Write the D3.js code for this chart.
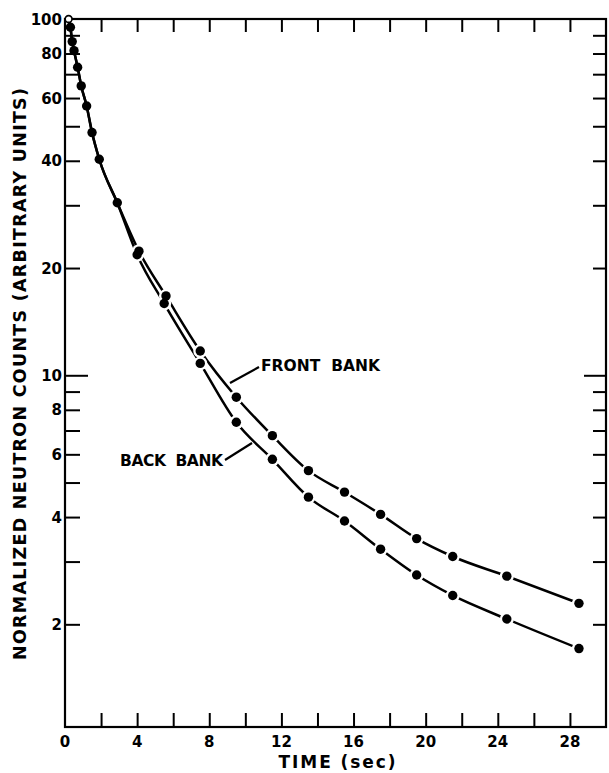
<!DOCTYPE html>
<html>
<head>
<meta charset="utf-8">
<script src="https://cdn.jsdelivr.net/npm/d3@7"></script>
<style>
  html, body { margin: 0; padding: 0; background: #fff; }
  svg { display: block; }
  text { font-family: "DejaVu Sans", "Liberation Sans", sans-serif; font-weight: bold; fill: #000; }
</style>
</head>
<body>
<svg id="chart" width="609" height="773"></svg>
<script>
// Early decay points, common to both detector banks (time in s, counts)
const earlyTimes  = [0.2, 0.3, 0.4, 0.5, 0.7, 0.9, 1.2, 1.5, 1.9, 2.9];
const earlyCounts = [100, 94.8, 86.4, 81.5, 73.2, 64.9, 57.0, 48.0, 40.4, 30.5];

// Front bank
const frontTimes  = [4.1, 5.6, 7.5, 9.5, 11.5, 13.5, 15.5, 17.5, 19.5, 21.5, 24.5, 28.5];
const frontCounts = [22.3, 16.7, 11.7, 8.68, 6.77, 5.40, 4.70, 4.07, 3.48, 3.10, 2.73, 2.29];

// Back bank
const backTimes  = [4.0, 5.5, 7.5, 9.5, 11.5, 13.5, 15.5, 17.5, 19.5, 21.5, 24.5, 28.5];
const backCounts = [21.8, 15.9, 10.8, 7.38, 5.81, 4.55, 3.90, 3.25, 2.75, 2.41, 2.07, 1.71];

// Axis ticks
const xTicks = [2, 4, 6, 8, 10, 12, 14, 16, 18, 20, 22, 24, 26, 28];
const xTickLabels = [0, 4, 8, 12, 16, 20, 24, 28];
const yTicks = [2, 3, 4, 5, 6, 7, 8, 9, 10, 20, 30, 40, 50, 60, 70, 80, 90];
const yTickLabels = [2, 4, 6, 8, 10, 20, 40, 60, 80, 100];

const svg = d3.select("#chart");
const plotLeft = 65, plotRight = 606, plotTop = 19, plotBottom = 727;

const x = d3.scaleLinear().domain([0, 30]).range([plotLeft, plotRight]);
const y = d3.scaleLog().domain([1.03, 100]).range([plotBottom, plotTop]);

// Frame
svg.append("rect")
  .attr("x", plotLeft).attr("y", plotTop)
  .attr("width", plotRight - plotLeft).attr("height", plotBottom - plotTop)
  .attr("fill", "none").attr("stroke", "#000").attr("stroke-width", 2.2);

function styleAxis(g) {
  g.select(".domain").remove();
  g.selectAll(".tick line").attr("stroke", "#000").attr("stroke-width", 2);
  g.selectAll(".tick text").remove();
}

// Inward ticks on all four sides
svg.append("g").attr("transform", `translate(0,${plotBottom})`)
  .call(d3.axisBottom(x).tickValues(xTicks).tickSize(-14)).call(styleAxis);
svg.append("g").attr("transform", `translate(0,${plotTop})`)
  .call(d3.axisTop(x).tickValues(xTicks).tickSize(-13)).call(styleAxis);
const gl = svg.append("g").attr("transform", `translate(${plotLeft},0)`)
  .call(d3.axisLeft(y).tickValues(yTicks).tickSize(-15)).call(styleAxis);
gl.selectAll(".tick line").filter(d => d === 10).attr("x2", 23);
const gr = svg.append("g").attr("transform", `translate(${plotRight},0)`)
  .call(d3.axisRight(y).tickValues(yTicks).tickSize(-13)).call(styleAxis);
gr.selectAll(".tick line").filter(d => d === 10).attr("x2", -22);

// Tick labels
svg.append("g").selectAll("text").data(xTickLabels).join("text")
  .attr("x", d => x(d)).attr("y", 747)
  .attr("text-anchor", "middle").attr("font-size", 15)
  .text(d => d);
svg.append("g").selectAll("text").data(yTickLabels).join("text")
  .attr("x", 62).attr("y", d => y(d) + 5.5)
  .attr("text-anchor", "end").attr("font-size", 15)
  .text(d => d);

// Axis titles
svg.append("text")
  .attr("x", 337).attr("y", 768)
  .attr("text-anchor", "middle").attr("font-size", 17)
  .attr("textLength", 117).attr("lengthAdjust", "spacing")
  .text("TIME (sec)");
svg.append("text")
  .attr("transform", "translate(26,374) rotate(-90)")
  .attr("text-anchor", "middle").attr("font-size", 17.5)
  .attr("textLength", 572).attr("lengthAdjust", "spacing")
  .text("NORMALIZED NEUTRON COUNTS (ARBITRARY UNITS)");

// Series
const early = earlyTimes.map((t, i) => ({ t, v: earlyCounts[i] }));
const front = frontTimes.map((t, i) => ({ t, v: frontCounts[i] }));
const back = backTimes.map((t, i) => ({ t, v: backCounts[i] }));

const line = d3.line().x(d => x(d.t)).y(d => y(d.v)).curve(d3.curveMonotoneX);

[early.concat(front), early.concat(back)].forEach(s => {
  svg.append("path").datum(s)
    .attr("d", line).attr("fill", "none")
    .attr("stroke", "#000").attr("stroke-width", 2.5);
});

// White gaps where the curves meet the later, well-spaced markers
const spaced = front.concat(back);
svg.append("g").selectAll("circle").data(spaced).join("circle")
  .attr("cx", d => x(d.t)).attr("cy", d => y(d.v)).attr("r", 7)
  .attr("fill", "#fff");

// Markers (first point drawn open)
const allPts = early.concat(front, back);
svg.append("g").selectAll("circle").data(allPts).join("circle")
  .attr("cx", d => x(d.t)).attr("cy", d => y(d.v))
  .attr("r", (d, i) => i === 0 ? 3.4 : 4.7)
  .attr("fill", (d, i) => i === 0 ? "#fff" : "#000")
  .attr("stroke", "#000").attr("stroke-width", (d, i) => i === 0 ? 1.6 : 0);

// Series labels with leader lines
svg.append("line").attr("x1", 230).attr("y1", 383).attr("x2", 259).attr("y2", 367)
  .attr("stroke", "#000").attr("stroke-width", 2.2);
svg.append("text").attr("x", 261).attr("y", 371).attr("font-size", 15.5)
  .attr("textLength", 119).attr("lengthAdjust", "spacing")
  .style("white-space", "pre").text("FRONT  BANK");

svg.append("line").attr("x1", 225).attr("y1", 460).attr("x2", 252).attr("y2", 443)
  .attr("stroke", "#000").attr("stroke-width", 2.2);
svg.append("text").attr("x", 120).attr("y", 466).attr("font-size", 15.5)
  .attr("textLength", 103).attr("lengthAdjust", "spacing")
  .style("white-space", "pre").text("BACK  BANK");
</script>
</body>
</html>
